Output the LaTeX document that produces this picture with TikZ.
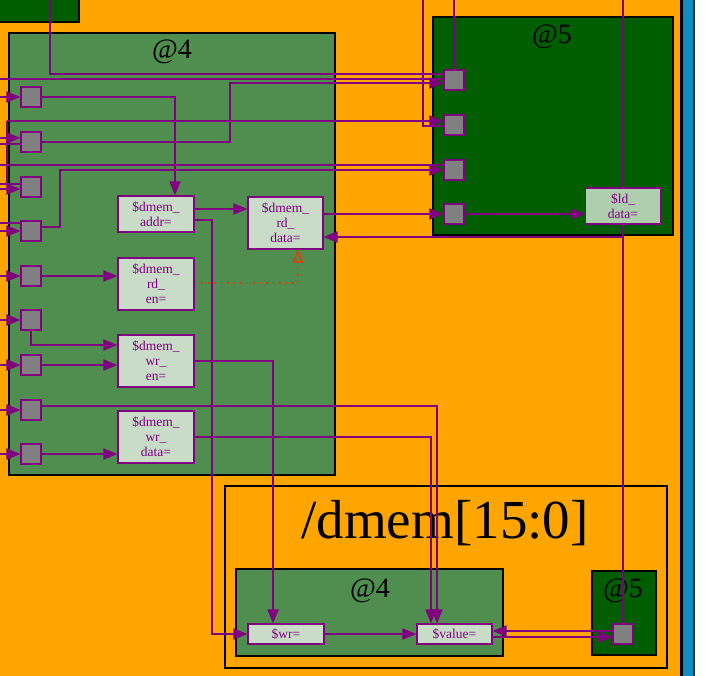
\documentclass[tikz,border=0pt]{standalone}
\usepackage{fontspec}
\setmainfont{Liberation Serif}
\usepackage{tikz}
\usetikzlibrary{arrows.meta, positioning, calc}
\definecolor{stageorange}{RGB}{255,165,0}
\definecolor{stagefour}{RGB}{80,142,80}
\definecolor{stagefive}{RGB}{0,94,0}
\definecolor{sigfill}{RGB}{200,220,200}
\definecolor{ldfill}{RGB}{174,206,174}
\definecolor{wirepurple}{RGB}{128,0,128}
\definecolor{portgray}{RGB}{128,128,128}
\definecolor{outerblue}{RGB}{16,140,192}
\definecolor{hintred}{RGB}{224,64,16}
\tikzset{
  stagebox/.style={
    draw=black,
    line width=1.8pt
  },
  stagelabel/.style={
    font=\fontsize{28}{30}\selectfont
  },
  sig/.style={
    draw=wirepurple,
    line width=1.2pt,
    fill=sigfill,
    text=wirepurple,
    align=center,
    inner sep=0pt,
    font=\fontsize{13.5}{15}\selectfont
  },
  port/.style={
    draw=wirepurple,
    line width=1.2pt,
    fill=portgray,
    minimum size=20pt,
    inner sep=0pt
  },
  wire/.style={draw=wirepurple, line width=1.8pt},
  arrow/.style={wire, -{Triangle[length=14pt, width=11pt]}},
  hintarrow/.style={draw=hintred, line width=1.6pt, dash pattern=on 1.5pt off 5pt, -{Triangle[open, length=13pt, width=11pt]}}
}
\begin{document}
\begin{tikzpicture}[x=1pt, y=-1pt]
\useasboundingbox (0,0) rectangle (713,676);
\fill[white] (0,0) rectangle (713,676);
\fill[outerblue] (682,0) rectangle (694,676);
\fill[stageorange] (0,0) rectangle (681,676);
\draw[line width=3pt] (681.5,-2) -- (681.5,678);
\draw[line width=1.8pt, black!80] (693.8,-2) -- (693.8,678);

\draw[stagebox, fill=stagefive] (-5,-5) rectangle (79,22);
\draw[stagebox, fill=stagefour] (9,33) rectangle (335,475);
\draw[stagebox, fill=stagefive] (433,17) rectangle (673,235);
\draw[stagebox, fill=stageorange] (225,486) rectangle (667,668);
\draw[stagebox, fill=stagefour] (236,569) rectangle (503,656);
\draw[stagebox, fill=stagefive] (592,571) rectangle (656,655);

\node[stagelabel] (fourlabel) at (172,52) {@4};
\node[stagelabel] (fivelabel) at (552,37) {@5};
\node[font=\fontsize{55}{60}\selectfont] (memlabel) at (445,523) {/dmem[15:0]};
\node[stagelabel] (memfourlabel) at (370,591) {@4};
\node[stagelabel] (memfivelabel) at (623,591) {@5};

\node[port] (l1) at (31,97) {};
\node[port] (l2) at (31,142) {};
\node[port] (l3) at (31,187) {};
\node[port] (l4) at (31,231) {};
\node[port] (l5) at (31,276) {};
\node[port] (l6) at (31,320) {};
\node[port] (l7) at (31,365) {};
\node[port] (l8) at (31,410) {};
\node[port] (l9) at (31,454) {};
\node[port] (r1) at (454,80) {};
\node[port] (r2) at (454,125) {};
\node[port] (r3) at (454,170) {};
\node[port] (r4) at (454,214) {};
\node[port] (dp) at (623,634) {};

\node[sig, minimum width=76pt, minimum height=36pt] (addr) at (156,214) {\$dmem\_\\addr=};
\node[sig, minimum width=75pt, minimum height=52pt] (rddata) at (285.5,223) {\$dmem\_\\rd\_\\data=};
\node[sig, minimum width=76pt, minimum height=52pt] (rden) at (156,284) {\$dmem\_\\rd\_\\en=};
\node[sig, minimum width=76pt, minimum height=52pt] (wren) at (156,361) {\$dmem\_\\wr\_\\en=};
\node[sig, minimum width=76pt, minimum height=52pt] (wrdata) at (156,437) {\$dmem\_\\wr\_\\data=};
\node[sig, fill=ldfill, minimum width=75pt, minimum height=36pt] (lddata) at (623,206) {\$ld\_\\data=};
\node[sig, minimum width=76pt, minimum height=20pt] (wr) at (286,634) {\$wr=};
\node[sig, minimum width=75pt, minimum height=20pt] (value) at (454.5,634) {\$value=};

\coordinate (leftedge) at (0,0);
\coordinate (topA) at (50,0);
\coordinate (topF) at (423,0);
\coordinate (topJ) at (454,0);
\coordinate (topI) at (623,0);
\coordinate (edgeB) at (0,79);
\coordinate (edgeE) at (0,184);
\coordinate (edgeG) at (0,165);
\coordinate (loopD) at (7,121);
\coordinate (bendC) at (230,83);
\coordinate (bendH) at (60,170);
\coordinate (bendK) at (623,237);
\coordinate (bendL) at (212,634);

\draw[arrow] (l1.west -| leftedge) -- (l1.west);
\draw[arrow] ($(l2.west -| leftedge)+(0,-4)$) -- ($(l2.west)+(0,-4)$);
\draw[wire] ($(l2.west -| leftedge)+(0,2)$) -- ($(l2.west)+(0,2)$);
\draw[arrow] ($(l3.west -| leftedge)+(0,2)$) -- ($(l3.west)+(0,2)$);
\draw[wire] (edgeE) -- ($(l3.west)+(0,-3)$);
\draw[arrow] (l4.west -| leftedge) -- (l4.west);
\draw[wire] ($(l4.west -| leftedge)+(0,-8)$) -- ($(l4.west)+(0,-8)$);
\draw[arrow] (l5.west -| leftedge) -- (l5.west);
\draw[arrow] (l6.west -| leftedge) -- (l6.west);
\draw[arrow] (l7.west -| leftedge) -- (l7.west);
\draw[arrow] (l8.west -| leftedge) -- (l8.west);
\draw[arrow] (l9.west -| leftedge) -- (l9.west);

\draw[wire] (topA) |- ($(r1.west)+(0,-6)$);
\draw[wire] (edgeB) -- (edgeB -| r1.west);
\draw[arrow] (l2.east) -| (bendC) -- ($(r1.west)+(0,3)$);
\draw[arrow] (l1.east) -| ($(addr.north)+(19,0)$);
\draw[arrow] (loopD) -- ($(r2.west)+(0,-4)$);
\draw[wire] (loopD) -- (loopD |- edgeE);
\draw[wire] (topF) |- ($(r2.west)+(0,1)$);
\draw[wire] (edgeG) -- ($(r3.west)+(0,-5)$);
\draw[arrow] ($(l4.east)+(0,-4)$) -| (bendH) -- (r3.west);
\draw[wire] (topJ) -- (r1.north);
\draw[wire] (topI) -- (lddata.north);

\draw[arrow] ($(addr.east)+(0,-5)$) -- ($(addr.east -| rddata.west)+(0,-5)$);
\draw[arrow] ($(addr.east)+(0,6)$) -| (bendL) -- (wr.west);
\draw[arrow] ($(rddata.east)+(0,-9)$) -- (r4.west);
\draw[arrow] (r4.east) -- (r4.east -| lddata.west);
\draw[wire] (lddata.south) -- (dp.north);
\draw[arrow] (bendK) -- (bendK -| rddata.east);
\draw[arrow] (l5.east) -- (l5.east -| rden.west);
\draw[arrow] (l6.south) |- ($(wren.west)+(0,-16)$);
\draw[arrow] (l7.east) -- (l7.east -| wren.west);
\draw[arrow] ($(l8.east)+(0,-4)$) -| ($(value.north)+(-17.5,0)$);
\draw[arrow] (l9.east) -- (l9.east -| wrdata.west);
\draw[arrow] (wren.east) -| ($(wr.north)+(-13,0)$);
\draw[arrow] (wrdata.east) -| ($(value.north)+(-23.5,0)$);
\draw[hintarrow] ($(rden.east)+(0,-1)$) -| ($(rddata.south)+(12.5,0)$);
\draw[arrow] (wr.east) -- (value.west);
\draw[arrow] ($(value.east)+(0,3)$) -- ($(dp.west)+(0,3)$);
\draw[arrow] ($(dp.west)+(0,-3)$) -- ($(value.east)+(0,-3)$);
\end{tikzpicture}
\end{document}
